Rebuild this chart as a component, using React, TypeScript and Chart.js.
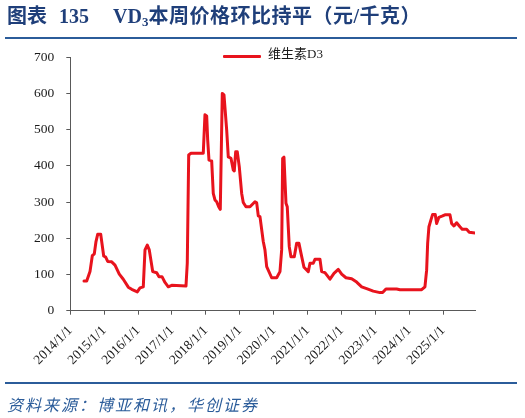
import React, { useEffect, useRef } from "react";
import { Chart, registerables } from "chart.js";

Chart.register(...registerables);

const seriesName = "维生素D3";
const years: number[] = [
  2014.404, 2014.484, 2014.581, 2014.649, 2014.708, 2014.758, 2014.808, 2014.897, 2014.985, 2015.044,
  2015.103, 2015.221, 2015.319, 2015.445, 2015.563, 2015.711, 2015.811, 2015.976, 2016.056, 2016.153,
  2016.204, 2016.271, 2016.33, 2016.431, 2016.549, 2016.617, 2016.705, 2016.794, 2016.891, 2016.991,
  2017.413, 2017.451, 2017.493, 2017.561, 2017.923, 2017.973, 2018.024, 2018.053, 2018.092, 2018.171,
  2018.218, 2018.268, 2018.319, 2018.378, 2018.425, 2018.484, 2018.534, 2018.614, 2018.661, 2018.74,
  2018.808, 2018.838, 2018.879, 2018.926, 2018.985, 2019.056, 2019.103, 2019.183, 2019.301, 2019.448,
  2019.499, 2019.546, 2019.596, 2019.693, 2019.743, 2019.794, 2019.941, 2020.089, 2020.186, 2020.236,
  2020.265, 2020.304, 2020.363, 2020.401, 2020.46, 2020.51, 2020.608, 2020.678, 2020.746, 2020.805,
  2020.894, 2021.021, 2021.071, 2021.168, 2021.218, 2021.366, 2021.416, 2021.513, 2021.661, 2021.779,
  2021.906, 2022.006, 2022.133, 2022.301, 2022.448, 2022.596, 2022.743, 2022.938, 2023.136, 2023.215,
  2023.313, 2023.628, 2023.726, 2024.366, 2024.463, 2024.513, 2024.543, 2024.581, 2024.64, 2024.69,
  2024.767, 2024.808, 2024.876, 2024.985, 2025.053, 2025.201, 2025.251, 2025.319, 2025.398, 2025.496,
  2025.563, 2025.693, 2025.77, 2025.968,
];
const prices: number[] = [
  82, 82, 108, 152, 157, 191, 211, 211, 151, 148,
  136, 135, 126, 101, 87, 65, 59, 52, 63, 66,
  168, 181, 168, 108, 105, 94, 94, 78, 66, 70,
  68, 131, 430, 435, 435, 541, 538, 472, 416, 414,
  324, 306, 301, 287, 280, 600, 596, 499, 425, 421,
  389, 386, 439, 439, 398, 324, 299, 287, 287, 301,
  298, 262, 260, 191, 168, 122, 91, 91, 108, 168,
  421, 424, 297, 287, 177, 149, 149, 186, 186, 159,
  120, 108, 131, 131, 142, 142, 108, 105, 87, 103,
  114, 101, 91, 88, 79, 66, 61, 54, 50, 50,
  60, 60, 58, 58, 66, 112, 186, 232, 251, 266,
  266, 241, 258, 262, 265, 265, 241, 234, 243, 232,
  225, 225, 217, 214,
];
const xMin = 2014;
const xMax = 2025.94;
const yMin = 0;
const yMax = 700;
const yStep = 100;

const RED = "#E8131D";
const BLUE = "#2B5C9A";
const AXIS = "#595959";

export default function App() {
  const ref = useRef<HTMLCanvasElement | null>(null);
  useEffect(() => {
    if (!ref.current) return;
    const data = years.map((x, i) => ({ x, y: prices[i] }));
    const chart = new Chart(ref.current, {
      type: "line",
      data: {
        datasets: [
          {
            label: seriesName,
            data,
            borderColor: RED,
            backgroundColor: RED,
            borderWidth: 3,
            pointRadius: 0,
            tension: 0,
            borderJoinStyle: "round",
            borderCapStyle: "round",
          },
        ],
      },
      options: {
        animation: false,
        responsive: false,
        devicePixelRatio: 1,
        layout: { padding: { left: 0, top: 57.3, right: 50, bottom: 0 } },
        plugins: { legend: { display: false }, tooltip: { enabled: false }, title: { display: false } },
        scales: {
          x: {
            type: "linear",
            min: xMin,
            max: xMax,
            afterFit: (s: any) => {
              s.height = 107.3;
            },
            border: { display: true, color: AXIS, width: 1 },
            grid: { display: true, drawOnChartArea: false, drawTicks: true, tickLength: 4, color: AXIS },
            ticks: {
              stepSize: 1,
              includeBounds: false,
              autoSkip: false,
              maxRotation: 45,
              minRotation: 45,
              padding: 8,
              color: "#1a1a1a",
              font: { family: "'Liberation Serif', 'Times New Roman', serif", size: 13.5 },
              callback: (v: any) => (Number.isInteger(v) ? `${v}/1/1` : ""),
            },
          },
          y: {
            min: yMin,
            max: yMax,
            afterFit: (s: any) => {
              s.width = 70.3;
            },
            border: { display: true, color: AXIS, width: 1 },
            grid: { display: true, drawOnChartArea: false, drawTicks: true, tickLength: 4, color: AXIS },
            ticks: {
              stepSize: yStep,
              padding: 12,
              color: "#1a1a1a",
              font: { family: "'Liberation Serif', 'Times New Roman', serif", size: 13.5 },
            },
          },
        },
      },
    });
    return () => chart.destroy();
  }, []);

  const cjkSerif = "'Liberation Serif', 'Noto Sans CJK SC', serif";
  return (
    <div style={{ position: "fixed", left: 0, top: 0, width: 525, height: 418, background: "#fff", overflow: "hidden" }}>
      <canvas ref={ref} width={525} height={418} style={{ position: "absolute", left: 0, top: 0, width: 525, height: 418 }} />
      <div
        style={{
          position: "absolute",
          left: 7,
          top: 4,
          fontFamily: cjkSerif,
          fontWeight: "bold",
          fontSize: 20,
          color: "#1F3F7A",
          whiteSpace: "nowrap",
          lineHeight: "24px",
        }}
      >
        <span>图表</span>
        <span style={{ marginLeft: 12 }}>135</span>
        <span style={{ marginLeft: 24 }}>VD</span>
        <sub style={{ fontSize: 13, verticalAlign: "-3px" }}>3</sub>
        <span style={{ letterSpacing: 0.5 }}>本周价格环比持平（元/千克）</span>
      </div>
      <div style={{ position: "absolute", left: 5, top: 37, width: 512, height: 2, background: BLUE }} />
      <div style={{ position: "absolute", left: 223, top: 55, width: 38, height: 3, background: RED, borderRadius: 1 }} />
      <div
        style={{
          position: "absolute",
          left: 268,
          top: 46,
          fontFamily: cjkSerif,
          fontSize: 13,
          color: "#1a1a1a",
          whiteSpace: "nowrap",
          lineHeight: "16px",
        }}
      >
        {seriesName}
      </div>
      <div style={{ position: "absolute", left: 5, top: 382, width: 512, height: 2, background: BLUE }} />
      <div
        style={{
          position: "absolute",
          left: 7,
          top: 394,
          fontFamily: "'Noto Sans CJK SC', sans-serif",
          fontStyle: "italic",
          fontSize: 16,
          letterSpacing: 2,
          color: BLUE,
          whiteSpace: "nowrap",
          lineHeight: "20px",
        }}
      >
        资料来源：博亚和讯，华创证券
      </div>
    </div>
  );
}
